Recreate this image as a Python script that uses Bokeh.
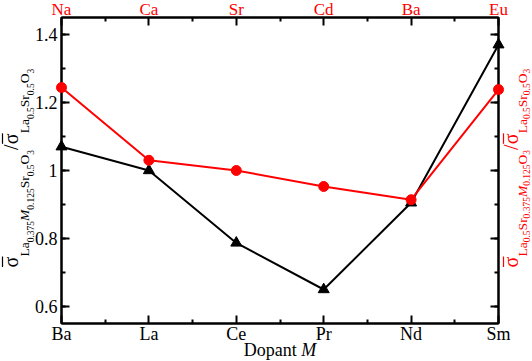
import numpy as np
from bokeh.plotting import figure
from bokeh.models import Range1d, LinearAxis, FixedTicker
from bokeh.core.properties import value
from bokeh.embed import file_html
from bokeh.resources import INLINE

# ---- data ----
dopants_bottom = ["Ba", "La", "Ce", "Pr", "Nd", "Sm"]
dopants_top = ["Na", "Ca", "Sr", "Cd", "Ba", "Eu"]
ratio_la_site = [1.07, 1.0, 0.787, 0.65, 0.905, 1.37]     # black triangles (bottom dopants)
ratio_sr_site = [1.244, 1.03, 1.0, 0.953, 0.914, 1.238]   # red circles (top dopants)
y_major = [0.6, 0.8, 1.0, 1.2, 1.4]
y_minor = [0.6, 0.7, 0.8, 0.9, 1.0, 1.1, 1.2, 1.3, 1.4]

idx = list(range(len(dopants_bottom)))
x_minor = [i + 0.5 for i in idx[:-1]]

SERIF = "Liberation Serif"
RED = "#ff0000"
K = 0.37   # baseline of rendered text lies K*font_size "below" the anchor (measured)

W, H = 532, 361
BL, BR, BT, BB = 61, 34, 17, 38
p = figure(width=W, height=H, output_backend="svg", toolbar_location=None,
           x_range=Range1d(0, len(idx) - 1), y_range=Range1d(0.55, 1.45),
           x_axis_type=None, y_axis_type=None,
           min_border_left=BL, min_border_right=BR, min_border_top=BT, min_border_bottom=BB)
p.outline_line_color = "black"
p.outline_line_width = 2
p.background_fill_color = "white"
p.border_fill_color = "white"

X0, X1 = p.x_range.start, p.x_range.end
Y0, Y1 = p.y_range.start, p.y_range.end
XPX = (W - BL - BR) / (X1 - X0)   # px per x unit
YPX = (H - BT - BB) / (Y1 - Y0)   # px per y unit


def style_axis(ax, color="black"):
    ax.axis_line_width = 2
    ax.major_tick_in = 8
    ax.major_tick_out = 0
    ax.minor_tick_in = 4
    ax.minor_tick_out = 0
    ax.major_tick_line_width = 2
    ax.minor_tick_line_width = 2
    ax.major_label_text_font = SERIF
    ax.major_label_text_font_size = "18px"
    ax.major_label_text_color = color


xb = LinearAxis(ticker=FixedTicker(ticks=idx, minor_ticks=x_minor),
                major_label_overrides={i: n for i, n in zip(idx, dopants_bottom)})
style_axis(xb)
xb.major_label_standoff = 0
p.add_layout(xb, "below")

xt = LinearAxis(ticker=FixedTicker(ticks=idx, minor_ticks=x_minor),
                major_label_overrides={i: "" for i in idx})
style_axis(xt)
xt.major_label_text_font_size = "0px"
xt.major_label_standoff = 0
p.add_layout(xt, "above")

yl = LinearAxis(ticker=FixedTicker(ticks=y_major, minor_ticks=y_minor),
                major_label_overrides={1.0: "1"})
style_axis(yl)
yl.major_label_standoff = 4
p.add_layout(yl, "left")

yr = LinearAxis(ticker=FixedTicker(ticks=y_major, minor_ticks=y_minor),
                major_label_overrides={v: "" for v in y_major})
style_axis(yr)
yr.major_label_text_font_size = "0px"
yr.major_label_standoff = 0
p.add_layout(yr, "right")


def put(x, y, txt, dx, dy, size, color, italic=False, angle=0.0, align="left"):
    p.text(x=[x] if not isinstance(x, list) else x,
           y=[y] if not isinstance(y, list) else y,
           text=[txt] if not isinstance(txt, list) else txt,
           x_offset=dx, y_offset=dy, angle=angle,
           text_font=value(SERIF), text_font_size=f"{size}px",
           text_font_style="italic" if italic else "normal", text_color=color,
           text_baseline="alphabetic", text_align=align, level="overlay")


# top category labels (red), just above the frame
TS = 17
put(idx, [Y1] * len(idx), dopants_top, 0, -1.8 - K * TS, TS, RED, align="center")

# ---- series ----
p.line(idx, ratio_la_site, line_color="black", line_width=2, level="overlay")
p.scatter(idx, ratio_la_site, marker="triangle", size=11, fill_color="black",
          line_color="black", level="overlay")
p.line(idx, ratio_sr_site, line_color=RED, line_width=2, level="overlay")
p.scatter(idx, ratio_sr_site, marker="circle", size=10, fill_color=RED,
          line_color=RED, level="overlay")

# ---- rotated y-axis titles built from pieces ----
EM = {'σ': 0.55, 'L': 0.611, 'a': 0.444, 'S': 0.556, 'r': 0.333, 'O': 0.722,
      'M': 0.833, '.': 0.25, '/': 0.278}
SIZES = {0: 20, 1: 13.5, 2: 9.5}


def text_width(t, size):
    return sum(EM.get(c, 0.5) for c in t) * size


def rotated_title(pieces, xa, base, drops, bar_pos, start, color):
    """base/drops/bar_pos: desired baseline distances (px) from the frame edge."""
    d = start
    for text, lvl, ital in pieces:
        size = SIZES[lvl]
        w = text_width(text, size)
        if text == 'σ':
            # the bar over sigma (to the left once the title is rotated)
            xb_ = xa + bar_pos / XPX
            p.segment(x0=[xb_], y0=[Y0 + (d + 0.5) / YPX], x1=[xb_], y1=[Y0 + (d + w) / YPX],
                      line_color=color, line_width=1.2, level="overlay")
        put(xa, Y0, text, base + drops[lvl] - K * size, -d, size, color, ital,
            angle=np.pi / 2)
        d += w


left_title = [("σ", 0, False), ("La", 1, False), ("0.375", 2, False), ("M", 1, True),
              ("0.125", 2, False), ("Sr", 1, False), ("0.5", 2, False), ("O", 1, False),
              ("3", 2, False), ("/", 0, False), ("σ", 0, False), ("La", 1, False),
              ("0.5", 2, False), ("Sr", 1, False), ("0.5", 2, False), ("O", 1, False),
              ("3", 2, False)]
right_title = [("σ", 0, False), ("La", 1, False), ("0.5", 2, False), ("Sr", 1, False),
               ("0.375", 2, False), ("M", 1, True), ("0.125", 2, False), ("O", 1, False),
               ("3", 2, False), ("/", 0, False), ("σ", 0, False), ("La", 1, False),
               ("0.5", 2, False), ("Sr", 1, False), ("0.5", 2, False), ("O", 1, False),
               ("3", 2, False)]

rotated_title(left_title, X0, -43, {0: 0, 1: 10.5, 2: 16}, -59, 56, "black")
rotated_title(right_title, X1, 20, {0: 0, 1: 8.5, 2: 11.5}, 5, 56, RED)

# ---- x-axis title "Dopant M" (M italic), baseline 33 px below the frame ----
FS = 18
w1 = (0.722 + 0.5 + 0.5 + 0.444 + 0.5 + 0.278 + 0.25) * FS
w2 = 0.833 * FS
xc = (X0 + X1) / 2
put(xc, Y0, "Dopant", -(w1 + w2) / 2, 33 - K * FS, FS, "black")
put(xc, Y0, "M", -(w1 + w2) / 2 + w1, 33 - K * FS, FS, "black", italic=True)

open("out.html", "w").write(file_html(p, INLINE))
